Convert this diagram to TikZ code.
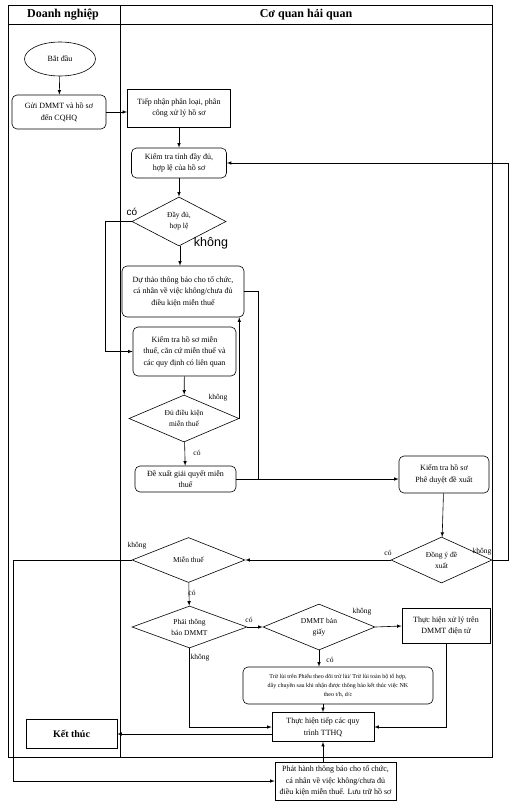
\documentclass[tikz,border=0pt]{standalone}
\usepackage{fontspec}
\setmainfont{Liberation Serif}
\setsansfont{Liberation Sans}
\usetikzlibrary{shapes.geometric}
\usetikzlibrary{arrows}
\tikzset{
	khung/.style={draw, line width=0.6pt, align=center, font=\fontsize{8}{11.5}\selectfont, inner sep=1pt},
	hop/.style={khung, rectangle},
	hopbo/.style={khung, rectangle, rounded corners=5pt},
	quyetdinh/.style={khung, diamond, aspect=2, inner sep=0pt, font=\fontsize{7.5}{11}\selectfont},
	batdau/.style={khung, ellipse},
	nhan/.style={font=\fontsize{7.5}{9}\selectfont, inner sep=0pt},
	nhansf/.style={font=\sffamily\fontsize{10}{12}\selectfont, inner sep=0pt},
	muiten/.style={->, >=latex, line width=0.6pt},
}

\begin{document}
\begin{tikzpicture}[x=1pt, y=-1pt]
	\useasboundingbox (0,0) rectangle (516,809);
	\draw[line width=0.7pt] (8,5) rectangle (492,757);
	\draw[line width=0.7pt] (8,24) -- (492,24);
	\draw[line width=0.7pt] (120,5) -- (120,757);
	\node[font=\bfseries\fontsize{12}{14}\selectfont] (dn) at (63,15) {Doanh nghiệp};
	\node[font=\bfseries\fontsize{12}{14}\selectfont] (hq) at (306,15) {Cơ quan hải quan};

	\node[batdau, minimum width=71pt, minimum height=34pt] (batdau) at (60,59) {Bắt đầu};
	\node[hopbo, minimum width=94pt, minimum height=34pt] (guihs) at (59,112) {Gửi DMMT và hồ sơ\\đến CQHQ};
	\node[hop, minimum width=103pt, minimum height=38pt] (tiepnhan) at (179,108) {Tiếp nhận phân loại, phân\\công xử lý hồ sơ};
	\node[hopbo, minimum width=95pt, minimum height=30pt] (kiemtra) at (179,163) {Kiểm tra tính đầy đủ,\\hợp lệ của hồ sơ};
	\node[quyetdinh, minimum width=94pt, minimum height=49pt] (daydu) at (179,221.5) {Đầy đủ,\\hợp lệ};
	\node[hopbo, minimum width=122pt, minimum height=51pt] (duthao) at (183,291.5) {Dự thảo thông báo cho tổ chức,\\cá nhân về việc không/chưa đủ\\điều kiện miễn thuế};
	\node[hopbo, minimum width=103pt, minimum height=49pt] (kiemtramt) at (184.5,351.5) {Kiểm tra hồ sơ miễn\\thuế, căn cứ miễn thuế và\\các quy định có liên quan};
	\node[quyetdinh, minimum width=110pt, minimum height=47pt] (dudk) at (184,418.5) {Đủ điều kiện\\miễn thuế};
	\node[hopbo, minimum width=101pt, minimum height=26pt] (dexuat) at (185.5,479) {Đề xuất giải quyết miễn\\thuế};
	\node[hopbo, minimum width=90pt, minimum height=37pt] (pheduyet) at (444,474.5) {Kiểm tra hồ sơ\\Phê duyệt đề xuất};
	\node[quyetdinh, minimum width=101pt, minimum height=46pt] (dongy) at (441.5,560) {Đồng ý đề\\xuất};
	\node[quyetdinh, minimum width=113pt, minimum height=45pt] (mienthue) at (188.5,560) {Miễn thuế};
	\node[quyetdinh, minimum width=115pt, minimum height=42pt] (phaitb) at (189.5,627) {Phải thông\\báo DMMT};
	\node[quyetdinh, minimum width=112pt, minimum height=46pt] (bangiay) at (319,627) {DMMT bản\\giấy};
	\node[hop, minimum width=88pt, minimum height=35pt] (xulydt) at (446,626) {Thực hiện xử lý trên\\DMMT điện tử};
	\node[hopbo, minimum width=190pt, minimum height=37pt, font=\fontsize{6}{9}\selectfont] (trului) at (338,685.5) {Trừ lùi trên Phiếu theo dõi trừ lùi/ Trừ lùi toàn bộ tổ hợp,\\dây chuyền sau khi nhận được thông báo kết thúc việc NK\\theo t/h, d/c};
	\node[hop, minimum width=102pt, minimum height=29pt] (tthq) at (323,727) {Thực hiện tiếp các quy\\trình TTHQ};
	\node[hop, minimum width=91pt, minimum height=29pt, font=\bfseries\fontsize{10}{12}\selectfont] (ketthuc) at (71.5,734) {Kết thúc};
	\node[hop, minimum width=121pt, minimum height=38pt] (phathanh) at (335.5,781) {Phát hành thông báo cho tổ chức,\\cá nhân về việc không/chưa đủ\\điều kiện miễn thuế. Lưu trữ hồ sơ};

	\draw[muiten] (batdau) -- (guihs);
	\draw[muiten] (guihs.east) -- (guihs.east -| tiepnhan.west);
	\draw[muiten] (tiepnhan) -- (kiemtra);
	\draw[muiten] (kiemtra) -- (daydu);
	\draw[muiten] ([xshift=1pt]daydu.south) -- ([xshift=1pt]daydu.south |- duthao.north);
	\draw[muiten] (daydu.west) -- ++(-26,0) |- (kiemtramt.west);
	\draw[muiten] (kiemtramt) -- (dudk);
	\draw[muiten] (dudk.east) -- (dudk.east |- duthao.south);
	\draw[muiten] (dudk) -- (dexuat);
	\coordinate (noi) at ([xshift=22pt]dexuat.east);
	\draw[line width=0.6pt] (duthao.east) -| (noi);
	\draw[muiten] (dexuat.east) -- (dexuat.east -| pheduyet.west);
	\draw[muiten] (pheduyet) -- (dongy);
	\draw[muiten] (dongy.west) -- (mienthue.east);
	\draw[muiten] (dongy.east) -- ++(16,0) |- (kiemtra.east);
	\draw[muiten] (mienthue.west) -- ++(-118,0) |- (phathanh.west);
	\draw[muiten] (mienthue) -- (phaitb);
	\draw[muiten] (phaitb.east) -- (bangiay.west);
	\draw[muiten] (phaitb.south) |- (tthq.west);
	\draw[muiten] (bangiay.east) -- (xulydt.west);
	\draw[muiten] (bangiay.south) -- (bangiay.south |- trului.north);
	\draw[muiten] (xulydt.south) |- (tthq.east);
	\draw[muiten] (tthq.north |- trului.south) -- (tthq.north);
	\draw[muiten] (tthq.west |- ketthuc) -- (ketthuc.east);
	\draw[muiten] (tthq.south |- phathanh.north) -- (tthq.south);

	\node[nhansf] (co1) at (132,212) {có};
	\node[nhansf, font=\sffamily\fontsize{12.5}{14}\selectfont] (khong1) at (211,243) {không};
	\node[nhan] (khong2) at (218,398) {không};
	\node[nhan] (co2) at (197,453) {có};
	\node[nhan] (co3) at (388,553) {có};
	\node[nhan] (khong3) at (482,552) {không};
	\node[nhan] (khong4) at (137,546) {không};
	\node[nhan] (co4) at (192,593) {có};
	\node[nhan] (co5) at (249,620) {có};
	\node[nhan] (khong5) at (200,658) {không};
	\node[nhan] (khong6) at (362,612) {không};
	\node[nhan] (co6) at (330,660) {có};
\end{tikzpicture}
\end{document}
